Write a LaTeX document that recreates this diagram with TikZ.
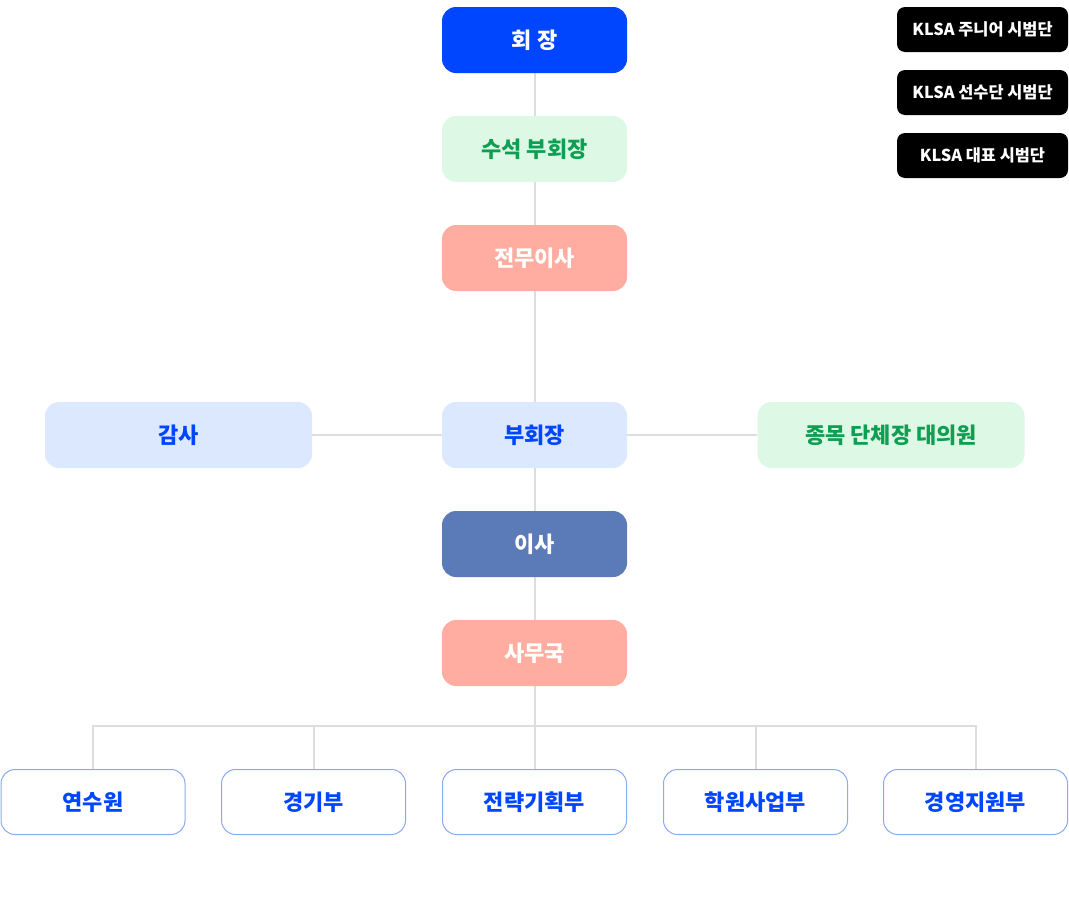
\documentclass[tikz,border=0pt]{standalone}
\usepackage{fontspec}
\setmainfont{Noto Sans CJK KR}
\usetikzlibrary{backgrounds}
\definecolor{kblue}{HTML}{0046FF}
\definecolor{kgreenf}{HTML}{DDF9E6}
\definecolor{kgreen}{HTML}{0E9F52}
\definecolor{ksalmon}{HTML}{FFADA0}
\definecolor{klblue}{HTML}{DCE8FD}
\definecolor{kslate}{HTML}{5B7AB8}
\definecolor{kborder}{HTML}{8AAAF5}
\definecolor{kline}{HTML}{DDDDDD}
\tikzset{
  box/.style={rounded corners=14pt, minimum width=185pt, minimum height=66pt, inner sep=0pt, font=\fontsize{22}{26}\selectfont\bfseries},
  widebox/.style={box, minimum width=267pt},
  topbox/.style={box, fill=kblue, text=white},
  greenbox/.style={fill=kgreenf, text=kgreen},
  salmonbox/.style={box, fill=ksalmon, text=white},
  lbluebox/.style={fill=klblue, text=kblue},
  slatebox/.style={box, fill=kslate, text=white},
  deptbox/.style={box, fill=white, draw=kborder, line width=1pt, text=kblue, minimum width=184pt, minimum height=65pt},
  blackbox/.style={rounded corners=8pt, fill=black, text=white, minimum width=171pt, minimum height=45pt, inner sep=0pt, font=\fontsize{16.4}{19}\selectfont\bfseries},
  link/.style={draw=kline, line width=2pt}
}
\begin{document}
\begin{tikzpicture}[x=1pt,y=-1pt]
\useasboundingbox (0,0) rectangle (1069,908);
\node[topbox] (pres) at (534.5,40) {회 장};
\node[box, greenbox] (svp) at (534.5,149) {수석 부회장};
\node[salmonbox] (md) at (534.5,258) {전무이사};
\node[widebox, lbluebox] (audit) at (178.5,435) {감사};
\node[box, lbluebox] (vp) at (534.5,435) {부회장};
\node[widebox, greenbox] (rep) at (891,435) {종목 단체장 대의원};
\node[slatebox] (dir) at (534.5,544) {이사};
\node[salmonbox] (sec) at (534.5,653) {사무국};
\coordinate (bus) at (534.5,726);
\node[deptbox] (d1) at (93,802) {연수원};
\node[deptbox] (d2) at (313.5,802) {경기부};
\node[deptbox] (d3) at (534.5,802) {전략기획부};
\node[deptbox] (d4) at (755.5,802) {학원사업부};
\node[deptbox] (d5) at (975.5,802) {경영지원부};
\node[blackbox] (b1) at (982.5,29.5) {KLSA 주니어 시범단};
\node[blackbox] (b2) at (982.5,92.5) {KLSA 선수단 시범단};
\node[blackbox] (b3) at (982.5,155.5) {KLSA 대표 시범단};
\begin{scope}[on background layer]
\draw[link] (pres) -- (svp);
\draw[link] (svp) -- (md);
\draw[link] (md) -- (vp);
\draw[link] (vp) -- (dir);
\draw[link] (dir) -- (sec);
\draw[link] (audit) -- (vp);
\draw[link] (vp) -- (rep);
\draw[link] (sec) -- (bus);
\foreach \d in {d1,d2,d3,d4,d5} {\draw[link] (bus) -| (\d);}
\end{scope}
\end{tikzpicture}
\end{document}
